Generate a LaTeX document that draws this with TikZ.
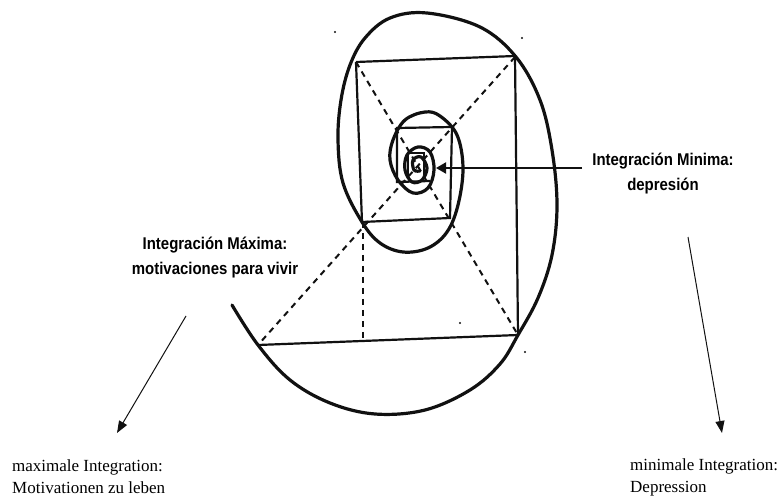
\documentclass[tikz,border=0pt]{standalone}
\usepackage{fontspec}
\setmainfont{Liberation Serif}
\newfontfamily\condbold[FakeStretch=0.88]{Liberation Sans}
\usepackage{tikz}
\usetikzlibrary{arrows.meta}
\definecolor{ink}{HTML}{111111}

\begin{document}
\begin{tikzpicture}[x=1pt,y=-1pt,
  spiral/.style={ink,line width=3.2pt,line cap=round,line join=round},
  frame/.style={ink,line width=2.2pt},
  guide/.style={ink,line width=2pt,dash pattern=on 6pt off 5pt},
  pointer/.style={ink,line width=1pt,-{Triangle[length=12pt,width=9pt]}},
  esp/.style={font=\condbold\bfseries\fontsize{17}{25}\selectfont,align=center,inner sep=0pt},
  deu/.style={font=\fontsize{17}{22}\selectfont,align=left,inner sep=0pt}]
  \useasboundingbox (0,0) rectangle (777,497);
  \draw[guide] (356,62)--(518,335);
  \draw[guide] (515,57)--(258,345);
  \draw[guide] (363,222)--(363,340);
  \draw[frame] (356,62)--(515,56)--(518,335)--(258,345);
  \draw[frame] (356,62)--(362,222)--(450,218)--(452,127)--(397,128)--(397,182)--(430,181);
  \draw[frame,line width=1.5pt] (408,176)--(408,153)--(424,153)--(424,175);
  \draw[spiral] plot[smooth,tension=0.6] coordinates {(232,305)(258,345)(290,380)(330,403)(375,414)(425,410)(470,390)(500,364)(518,335)(538,298)(552,255)(557,205)(552,150)(540,100)(516,57)(480,27)(427,13)(390,18)(365,38)(350,65)(341,100)(338,140)(343,183)(362,222)(380,243)(403,252)(428,248)(447,232)(458,205)(463,168)(457,135)(440,116)(425,112)(405,120)(393,140)(390,160)(398,180)(413,193)(428,188)(434,170)(430,152)(418,147)(407,155)(405,170)(412,182)(422,180)(427,168)(421,157)(413,160)(414,170)(420,171)};
  \foreach \x/\y in {335/32,522/38,460/323,525/352}{\fill[ink] (\x,\y) circle (1.2pt);}
  \coordinate (minFrom) at (582,168);
  \coordinate (minTo) at (436,168);
  \draw[ink,line width=2pt,-{Triangle[length=10pt,width=11pt]}] (minFrom) -- (minTo);
  \node[esp] (labelMin) at (663,174) {Integración Minima:\\depresión};
  \node[esp] (labelMax) at (215,258) {Integración Máxima:\\motivaciones para vivir};
  \node[deu,anchor=west] (textMax) at (12,477) {maximale Integration:\\Motivationen zu leben};
  \node[deu,anchor=west] (textMin) at (630,477) {minimale Integration:\\Depression};
  \coordinate (maxFrom) at (186,316);
  \coordinate (maxTo) at (117,433);
  \coordinate (depFrom) at (688,237);
  \coordinate (depTo) at (722,433);
  \draw[pointer] (maxFrom) -- (maxTo);
  \draw[pointer] (depFrom) -- (depTo);
\end{tikzpicture}
\end{document}
